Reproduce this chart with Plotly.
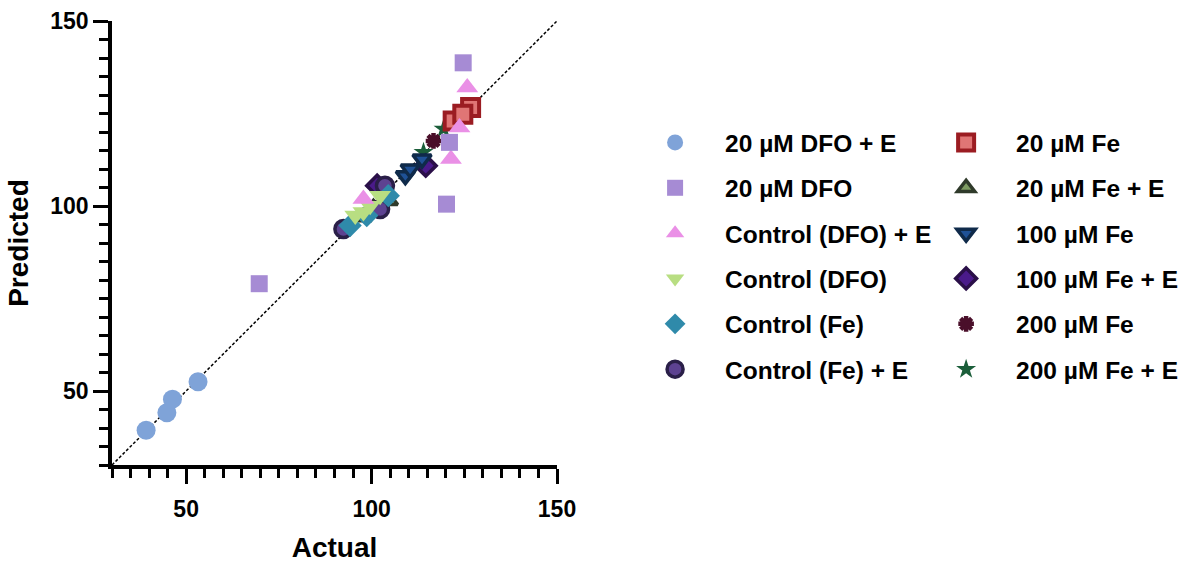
import plotly.graph_objects as go

FONT = "Liberation Sans, Arial, Helvetica, sans-serif"

# ---- data ----
names = ["20 µM DFO + E", "20 µM DFO", "Control (DFO) + E", "Control (DFO)",
         "Control (Fe)", "Control (Fe) + E",
         "20 µM Fe", "20 µM Fe + E", "100 µM Fe", "100 µM Fe + E",
         "200 µM Fe", "200 µM Fe + E"]

dfo_e_x = [39.2, 44.8, 46.3, 53.2]
dfo_e_y = [39.4, 44.1, 47.8, 52.5]
dfo_x = [69.7, 124.7, 121.0, 120.2]
dfo_y = [79.0, 138.7, 117.2, 100.5]
ctl_dfo_e_x = [125.8, 123.7, 121.4, 97.8]
ctl_dfo_e_y = [132.0, 121.2, 112.7, 101.9]
ctl_dfo_x = [102.3, 99.6, 95.6, 97.8]
ctl_dfo_y = [102.8, 100.1, 97.4, 98.4]
ctl_fe_x = [94.2, 104.5, 98.7]
ctl_fe_y = [94.7, 102.8, 97.4]
ctl_fe_e_x = [92.4, 102.3, 103.6]
ctl_fe_e_y = [93.8, 99.2, 105.5]
fe20_x = [126.7, 122.0, 124.6]
fe20_y = [126.6, 123.0, 124.8]
fe20_e_x = [97.7, 104.7, 100.5]
fe20_e_y = [97.0, 101.4, 99.5]
fe100_x = [109.1, 110.4, 113.6]
fe100_y = [108.2, 110.0, 112.7]
fe100_e_x = [114.6, 101.5]
fe100_e_y = [110.9, 105.5]
fe200_x = [116.7]
fe200_y = [117.6]
fe200_e_x = [114.0, 119.4]
fe200_e_y = [114.5, 120.8]

xs = [dfo_e_x, dfo_x, ctl_dfo_e_x, ctl_dfo_x, ctl_fe_x, ctl_fe_e_x,
      fe20_x, fe20_e_x, fe100_x, fe100_e_x, fe200_x, fe200_e_x]
ys = [dfo_e_y, dfo_y, ctl_dfo_e_y, ctl_dfo_y, ctl_fe_y, ctl_fe_e_y,
      fe20_y, fe20_e_y, fe100_y, fe100_e_y, fe200_y, fe200_e_y]

identity = [30, 150]
tick_values = [50, 100, 150]

# ---- styles ----
styles = [
    dict(symbol="circle", size=19, color="#7fa3d8", line=dict(width=0)),
    dict(symbol="square", size=17, color="#a68bd4", line=dict(width=0)),
    dict(symbol="triangle-up", size=19, color="#ea90e6", line=dict(width=0)),
    dict(symbol="triangle-down", size=19, color="#b8de82", line=dict(width=0)),
    dict(symbol="diamond", size=18, color="#2f8aaa", line=dict(width=0)),
    dict(symbol="circle", size=17, color="#5d4291", line=dict(width=3.5, color="#2a1f48")),
    dict(symbol="square", size=17, color="#e07575", line=dict(width=4, color="#9b1c22")),
    dict(symbol="triangle-up", size=15, color="#7e9c62", line=dict(width=3.5, color="#2f3a2a")),
    dict(symbol="triangle-down", size=16, color="#1f5196", line=dict(width=3.5, color="#0f2a4a")),
    dict(symbol="diamond", size=16, color="#4a1a8a", line=dict(width=3.5, color="#2a0f48")),
    dict(symbol="asterisk", size=13, color="#4a0f2a", line=dict(width=4.5, color="#4a0f2a")),
    dict(symbol="star", size=15, color="#1b5e3a", line=dict(width=0)),
]

fig = go.Figure()
fig.add_trace(go.Scatter(x=identity, y=identity, mode="lines",
                         line=dict(color="black", width=1.5, dash="3px,2px"),
                         showlegend=False, hoverinfo="skip"))

# earlier series drawn on top -> add in reverse order
for i in reversed(range(len(names))):
    fig.add_trace(go.Scatter(
        x=xs[i], y=ys[i], mode="markers", name=names[i],
        marker=styles[i], legendgroup=f"g{i}", legendrank=i + 1,
        legend="legend" if i < 6 else "legend2"))

axis_common = dict(
    range=[30, 150], showgrid=False, zeroline=False,
    showline=True, linecolor="black", linewidth=3.5,
    ticks="outside", ticklen=15, tickwidth=3, tickcolor="black",
    tickvals=tick_values,
    tickfont=dict(family=FONT, size=23, color="black", weight="bold"),
    minor=dict(dtick=5, ticks="outside", ticklen=9, tickwidth=3, tickcolor="black"),
)

legend_common = dict(
    xanchor="left", yanchor="top",
    font=dict(family=FONT, size=24.5, weight="bold"),
    itemwidth=90, tracegroupgap=10.5, traceorder="grouped",
    bgcolor="rgba(0,0,0,0)")

fig.update_layout(
    width=1185, height=563,
    margin=dict(l=112, r=628, t=21, b=98, autoexpand=False),
    plot_bgcolor="white", paper_bgcolor="white",
    font=dict(family=FONT, color="black"),
    xaxis=dict(axis_common, ticklabelstandoff=6,
               title=dict(text="Actual", standoff=22,
                          font=dict(family=FONT, size=28, weight="bold"))),
    yaxis=dict(axis_common,
               title=dict(text="Predicted", standoff=14,
                          font=dict(family=FONT, size=28, weight="bold"))),
    legend=dict(legend_common, x=1.153, y=0.777),
    legend2=dict(legend_common, x=1.807, y=0.777),
    showlegend=True,
)

fig.write_html("out.html")
